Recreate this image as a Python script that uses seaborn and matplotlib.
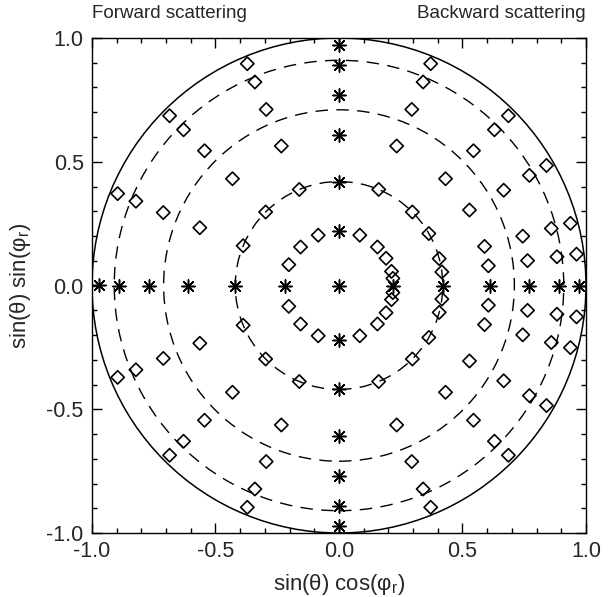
import matplotlib
matplotlib.use("Agg")
import matplotlib.pyplot as plt
from matplotlib.patches import Circle
from matplotlib.ticker import MultipleLocator
import seaborn as sns
import numpy as np
import pandas as pd

ring_r = [0.22, 0.42, 0.61, 0.77, 0.89, 0.97]
# relative azimuths (degrees) of the asterisks (principal plane + cross plane)
star_phi = [0, 90, 180, 270]
# relative azimuths (degrees) of the diamonds
diamond_phi_forward = [112.5, 135, 157.5, 202.5, 225, 247.5]
diamond_phi_backward = [7.5, 15, 30, 45, 67.5, 292.5, 315, 330, 345, 352.5]
# dashed reference circles and the horizon
dashed_r = [0.42, 0.71, 0.91]
horizon_r = 1.0


def project(radii, phis):
    rr, pp = np.meshgrid(radii, np.radians(phis))
    return pd.DataFrame({"x": (rr * np.cos(pp)).ravel(), "y": (rr * np.sin(pp)).ravel()})


stars = pd.concat([project(ring_r, star_phi), pd.DataFrame({"x": [0.0], "y": [0.0]})])
diamonds = project(ring_r, diamond_phi_forward + diamond_phi_backward)

sns.set_style("ticks")
plt.rcParams["font.family"] = ["Liberation Sans", "DejaVu Sans"]
plt.rcParams["mathtext.fontset"] = "custom"
plt.rcParams["mathtext.rm"] = "Liberation Sans"
plt.rcParams["mathtext.it"] = "Liberation Sans"
plt.rcParams["axes.unicode_minus"] = False

fig = plt.figure(figsize=(6.11, 5.97), dpi=100)
ax = fig.add_axes([92 / 611, 1 - 533 / 597, 494 / 611, 495 / 597])

for r in dashed_r:
    ax.add_patch(Circle((0, 0), r, fill=False, ec="black", lw=1.0, ls=(0, (9, 6))))
ax.add_patch(Circle((0, 0), horizon_r, fill=False, ec="black", lw=1.1))

sns.scatterplot(data=diamonds, x="x", y="y", marker="D", s=46, facecolor="none",
                edgecolor="black", linewidth=1.2, ax=ax, zorder=3)
sns.scatterplot(data=stars, x="x", y="y", marker=(8, 2, 0), s=90, color="black",
                linewidth=1.1, ax=ax, zorder=4)

ax.set_xlim(-1, 1)
ax.set_ylim(-1, 1)
ax.xaxis.set_major_locator(MultipleLocator(0.5))
ax.yaxis.set_major_locator(MultipleLocator(0.5))
ax.xaxis.set_minor_locator(MultipleLocator(0.1))
ax.yaxis.set_minor_locator(MultipleLocator(0.1))
ax.xaxis.set_major_formatter("{x:.1f}")
ax.yaxis.set_major_formatter("{x:.1f}")
ax.tick_params(which="both", direction="in", top=True, right=True, color="black",
               labelsize=15.5, pad=6)
ax.tick_params(which="major", length=7, width=1.0)
ax.tick_params(which="minor", length=3.5, width=1.0)
for s in ax.spines.values():
    s.set_linewidth(1.0)
    s.set_color("black")

ax.set_xlabel(r"sin(θ) cos(φ$_\mathregular{r}$)", fontsize=16)
ax.set_ylabel(r"sin(θ) sin(φ$_\mathregular{r}$)", fontsize=16)
ax.xaxis.set_label_coords(0.5, -(572 - 533) / 495)
ax.yaxis.set_label_coords(-(92 - 33) / 494, 0.5)

fig.text(92 / 611, 1 - 14 / 597, "Forward scattering", fontsize=13.5, ha="left", va="center")
fig.text(586 / 611, 1 - 14 / 597, "Backward scattering", fontsize=13.5, ha="right", va="center")

fig.savefig("out.png", dpi=100)
